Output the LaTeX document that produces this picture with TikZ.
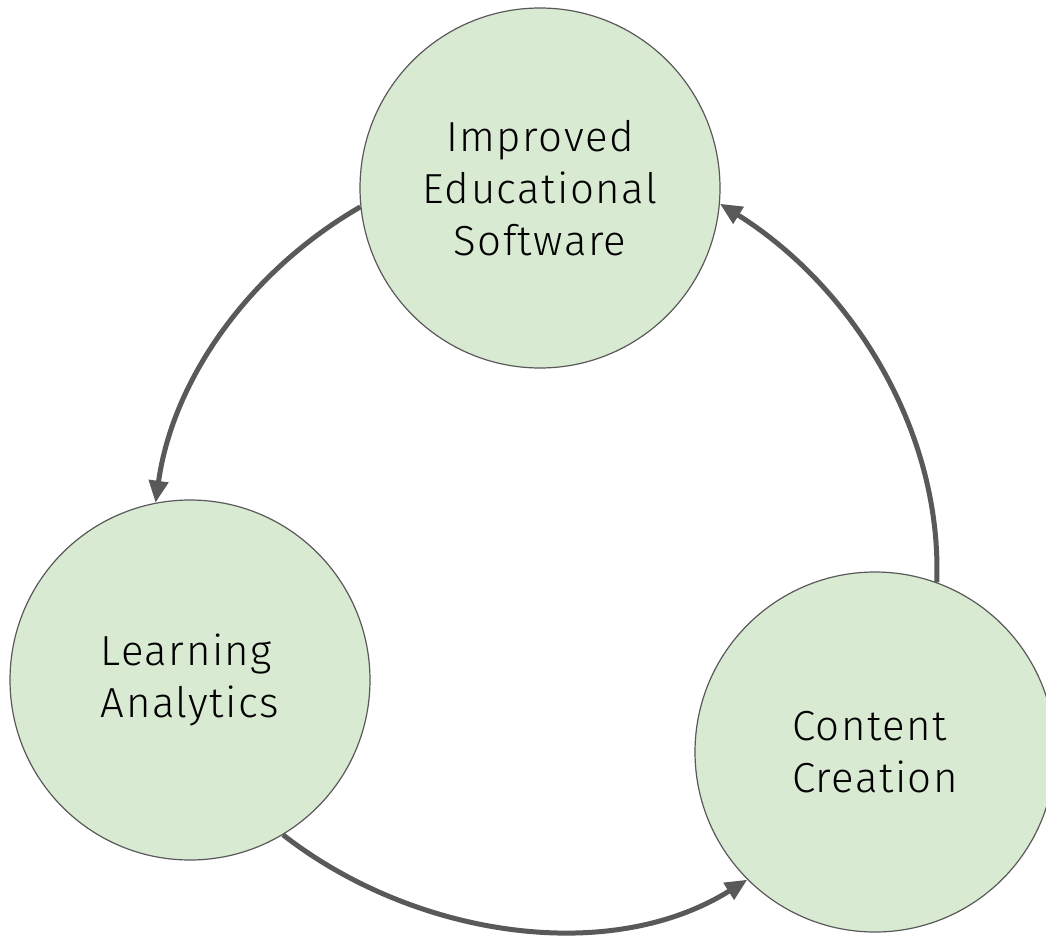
\documentclass[tikz,border=0pt]{standalone}
\usepackage{fontspec}
\setmainfont{Fira Sans Light}[LetterSpace=3.5]
\usetikzlibrary{arrows.meta}

\definecolor{stagefill}{HTML}{D9EAD3}
\definecolor{stageline}{HTML}{595959}

\begin{document}
\begin{tikzpicture}[
		x=1pt, y=1pt,
		stage/.style={circle, draw=stageline, line width=1.2pt, fill=stagefill, minimum size=360pt, inner sep=0pt,
			font=\fontsize{42}{52}\selectfont},
		cycle/.style={draw=stageline, line width=5pt, looseness=0.9, -{Triangle[length=22pt, width=19pt]}},
	]
	\useasboundingbox (0,0) rectangle (1046,-936);

	\node[stage, align=center] (software) at (540,-188) {Improved\\Educational\\Software};
	\node[stage, align=left] (analytics) at (190,-680) {Learning\\Analytics};
	\node[stage, align=left] (content) at (875,-752) {Content\\Creation};

	\foreach \i/\j/\o/\n in {software.186/analytics.101/210/82, analytics.301/content.225/322/212, content.70/software.355/88/328}
		\draw[cycle] (\i) to[out=\o, in=\n] (\j);

\end{tikzpicture}
\end{document}
